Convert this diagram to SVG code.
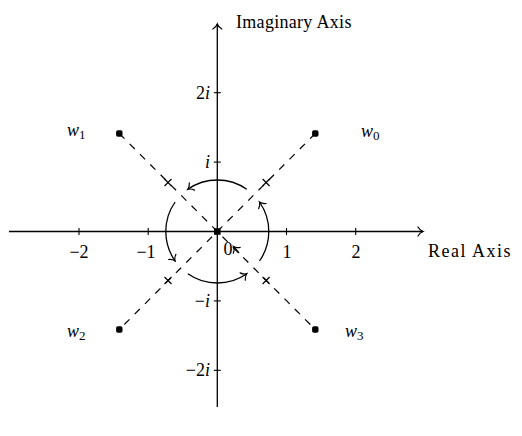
<svg xmlns="http://www.w3.org/2000/svg" width="522" height="436" viewBox="0 0 522 436">
<defs>
<marker id="to" viewBox="-6 -6 8 12" markerWidth="8" markerHeight="12" refX="0" refY="0" orient="auto" markerUnits="userSpaceOnUse">
<path d="M-5,-4.5 C-3.5,-1.8 -1.2,-0.4 0,0 C-1.2,0.4 -3.5,1.8 -5,4.5" fill="none" stroke="#000" stroke-width="1.2" stroke-linecap="round"/>
</marker>
</defs>
<style>
.ax{stroke:#000;stroke-width:1.3;fill:none}
.tk{stroke:#000;stroke-width:1.1}
.ds{stroke:#000;stroke-width:1.2;stroke-dasharray:7.3 7.3;fill:none}
.cr{stroke:#000;stroke-width:1.2}
.arc{stroke:#000;stroke-width:1.3;fill:none}
.pt{fill:#000}
text{font-family:"Liberation Serif","DejaVu Serif",serif;font-size:18px;fill:#000}
.it{font-style:italic}
.sub{font-size:13px;font-style:normal}
.m{text-anchor:middle}
.e{text-anchor:end}
</style>
<g id="connectors">
<line class="ds" x1="119.3" y1="133.5" x2="315.3" y2="329.5"/>
<line class="ds" x1="315.3" y1="133.5" x2="119.3" y2="329.5"/>
<path class="arc" d="M246.8,189.3 A51.5,51.5 0 0 0 187.8,189.3" marker-end="url(#to)"/>
<path class="arc" d="M175.1,202 A51.5,51.5 0 0 0 175.1,261" marker-end="url(#to)"/>
<path class="arc" d="M187.8,273.7 A51.5,51.5 0 0 0 246.8,273.7" marker-end="url(#to)"/>
<path class="arc" d="M259.5,261 A51.5,51.5 0 0 0 259.5,202" marker-end="url(#to)"/>
<path class="arc" d="M239,253 L233.5,246.5" marker-end="url(#to)"/>
</g>
<g id="axes">
<line class="ax" x1="9" y1="231.5" x2="423" y2="231.5" marker-end="url(#to)"/>
<line class="ax" x1="217.3" y1="407" x2="217.3" y2="24" marker-end="url(#to)"/>
<line class="tk" x1="79" y1="228" x2="79" y2="235"/>
<line class="tk" x1="148.2" y1="228" x2="148.2" y2="235"/>
<line class="tk" x1="286.5" y1="228" x2="286.5" y2="235"/>
<line class="tk" x1="355.7" y1="228" x2="355.7" y2="235"/>
<line class="tk" x1="213.8" y1="92.7" x2="220.8" y2="92.7"/>
<line class="tk" x1="213.8" y1="162.1" x2="220.8" y2="162.1"/>
<line class="tk" x1="213.8" y1="300.9" x2="220.8" y2="300.9"/>
<line class="tk" x1="213.8" y1="370.3" x2="220.8" y2="370.3"/>
<text x="236" y="28" letter-spacing="0.3">Imaginary Axis</text>
<text x="428" y="257" letter-spacing="1.5">Real Axis</text>
<text class="m" x="79" y="258">−2</text>
<text class="m" x="146" y="258">−1</text>
<text class="m" x="287" y="258">1</text>
<text class="m" x="356" y="258">2</text>
<text class="m" x="228" y="255">0</text>
<text class="e" x="210" y="99">2<tspan class="it">i</tspan></text>
<text class="e it" x="210" y="168">i</text>
<text class="e" x="210" y="307">−<tspan class="it">i</tspan></text>
<text class="e" x="210" y="376">−2<tspan class="it">i</tspan></text>
</g>
<g id="origin">
<rect x="214" y="228.2" width="6.6" height="6.6" class="pt"/>
</g>
<g id="crosses">
<path class="cr" d="M164.5,179 l7,7 m0,-7 l-7,7"/>
<path class="cr" d="M262.6,179 l7,7 m0,-7 l-7,7"/>
<path class="cr" d="M164.5,277 l7,7 m0,-7 l-7,7"/>
<path class="cr" d="M262.6,277 l7,7 m0,-7 l-7,7"/>
</g>
<g id="w0">
<rect x="312.1" y="130.3" width="6.4" height="6.4" rx="1.8" class="pt"/>
<text class="it" x="361" y="137">w<tspan class="sub" dy="3">0</tspan></text>
</g>
<g id="w1">
<rect x="116.1" y="130.3" width="6.4" height="6.4" rx="1.8" class="pt"/>
<text class="it" x="67" y="136">w<tspan class="sub" dy="3">1</tspan></text>
</g>
<g id="w2">
<rect x="116.1" y="326.3" width="6.4" height="6.4" rx="1.8" class="pt"/>
<text class="it" x="67" y="337">w<tspan class="sub" dy="3">2</tspan></text>
</g>
<g id="w3">
<rect x="312.1" y="326.3" width="6.4" height="6.4" rx="1.8" class="pt"/>
<text class="it" x="345" y="337">w<tspan class="sub" dy="3">3</tspan></text>
</g>
</svg>
